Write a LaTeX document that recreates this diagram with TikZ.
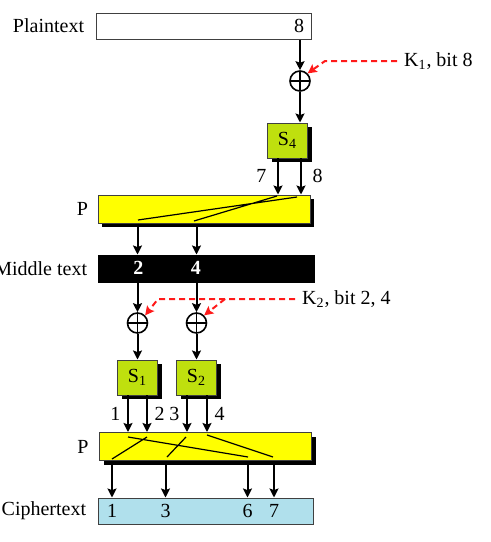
\documentclass[tikz,border=0pt]{standalone}
\usepackage{fontspec}
\setmainfont{Liberation Serif}
\usetikzlibrary{arrows.meta}
\usetikzlibrary{shadows}
\usetikzlibrary{positioning}
\definecolor{sgreen}{HTML}{BFE00E}
\definecolor{pyellow}{HTML}{FFFF00}
\definecolor{cblue}{HTML}{B0E0EC}
\definecolor{kred}{HTML}{FF1A1A}
\tikzset{
	wordbox/.style = {
		rectangle,
		inner sep=0pt,
		draw=black!75,
		line width=0.5pt,
		minimum height=13pt,
		minimum width=107.5pt
	},
	box_plain/.style = {
		wordbox,
		fill=white
	},
	box_mid/.style = {
		wordbox,
		draw=black,
		fill=black,
		minimum width=108pt,
		minimum height=13.5pt
	},
	box_cipher/.style = {
		wordbox,
		fill=cblue
	},
	box_p/.style = {
		wordbox,
		fill=pyellow,
		minimum width=106pt,
		minimum height=14pt,
		drop shadow={shadow xshift=2pt, shadow yshift=-2pt, fill=black, opacity=1}
	},
	box_s/.style = {
		wordbox,
		fill=sgreen,
		minimum width=20pt,
		minimum height=17.5pt,
		drop shadow={shadow xshift=2pt, shadow yshift=-2pt, fill=black, opacity=1}
	},
	node_xor/.style = {
		circle,
		draw=black,
		fill=white,
		line width=0.8pt,
		inner sep=0pt,
		minimum size=10pt,
		path picture={
			\draw [line width=0.6pt]
				(path picture bounding box.north) -- (path picture bounding box.south)
				(path picture bounding box.west) -- (path picture bounding box.east);
		}
	},
	row_label/.style = {
		inner sep=0pt,
		anchor=east
	},
	bit/.style = {
		inner sep=0pt
	},
	bit_w/.style = {
		bit,
		white,
		font=\bfseries
	},
	key_label/.style = {
		anchor=west
	},
	arrow/.style = {
		->,
		line width=1pt
	},
	wire/.style = {
		line width=0.6pt
	},
	key_arrow/.style = {
		->,
		kred,
		line width=1pt,
		dash pattern=on 3pt off 2pt
	}
}
\begin{document}
\begin{tikzpicture}[x=0.5pt,y=-0.5pt,>={Stealth[length=4.5pt,width=4.5pt,inset=0.8pt]}]
\useasboundingbox (0,0) rectangle (491,542);
% boxes
\node [box_plain] (plain) at (203.5,26) {};
\node [box_p] (p1) at (204,209) {};
\node [box_mid] (mid) at (206,268.5) {};
\node [box_p] (p2) at (205.5,446.5) {};
\node [box_cipher] (cipher) at (205.5,511) {};
\node [box_s] (s4) at (287.5,140.5) {S\textsubscript{4}};
\node [box_s] (s1) at (137.5,377.5) {S\textsubscript{1}};
\node [box_s] (s2) at (196.5,377.5) {S\textsubscript{2}};
\node [node_xor] (x8) at (300,81) {};
\node [node_xor] (x2) at (137.5,323) {};
\node [node_xor] (x4) at (196.5,323) {};
% row names
\node [row_label, left=5.5pt of plain] (lplain) {Plaintext};
\node [row_label, left=4.5pt of p1] (lp1) {P};
\node [row_label, left=5pt of mid] (lmid) {Middle text};
\node [row_label, left=5pt of p2] (lp2) {P};
\node [row_label, left=5.5pt of cipher] (lcipher) {Ciphertext};
% bits
\node [bit] (b8) at (299,26) {8};
\node [bit_w] (m2) at (138.5,268) {2};
\node [bit_w] (m4) at (196,268) {4};
\node [bit] (c1) at (112,511) {1};
\node [bit] (c3) at (165.5,511) {3};
\node [bit] (c6) at (247.5,511) {6};
\node [bit] (c7) at (274,511) {7};
% keys
\node [key_label] (k1) at (397,61) {K\textsubscript{1}, bit 8};
\node [key_label] (k2) at (295,299) {K\textsubscript{2}, bit 2, 4};

% round 1
\draw [arrow] (x8 |- plain.south) -- (x8);
\draw [arrow] (x8) -- (x8 |- s4.north);
\coordinate (o7) at (278,158);
\coordinate (o8) at (301,158);
\draw [arrow] (o7) -- node [left=2pt] {7} (o7 |- p1.north);
\draw [arrow] (o8) -- node [right=2pt] {8} (o8 |- p1.north);
\draw [wire] (297,197) -- (138,220) (277,196) -- (194,221);
\draw [arrow] (x2 |- p1.south) -- (x2 |- mid.north);
\draw [arrow] (x4 |- p1.south) -- (x4 |- mid.north);

% round 2
\draw [arrow] (x2 |- mid.south) -- (x2);
\draw [arrow] (x4 |- mid.south) -- (x4);
\draw [arrow] (x2) -- (x2 |- s1.north);
\draw [arrow] (x4) -- (x4 |- s2.north);
\coordinate (o1) at (128,395);
\coordinate (o2) at (147,395);
\coordinate (o3) at (187,395);
\coordinate (o4) at (207,395);
\foreach \o/\t/\s in {o1/1/left, o2/2/right, o3/3/left, o4/4/right}
	\draw [arrow] (\o) -- node [\s] {\t} (\o |- p2.north);
\draw [wire] (128,437) -- (248,457) (147,437) -- (112,459)
	(186,437) -- (167,457) (207,435) -- (273,457);
\foreach \c in {c1,c3,c6,c7}
	\draw [arrow] (\c |- p2.south) -- (\c |- cipher.north);

% keys
\draw [key_arrow] (k1.west) -- ++(-72,0) -- (x8.north east);
\draw [key_arrow] (k2.west) -- ++(-137,0) -- (x2.north east);
\draw [key_arrow] (k2.west) ++(-70,0) -- (x4.north east);
\end{tikzpicture}
\end{document}
